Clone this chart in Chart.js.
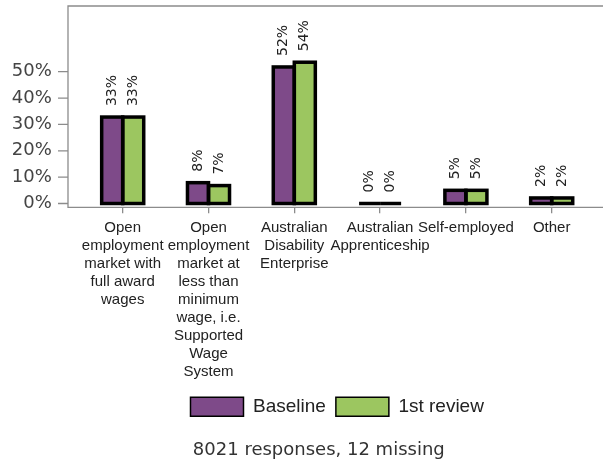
<!DOCTYPE html>
<html>
<head>
<meta charset="utf-8">
<script src="https://cdn.jsdelivr.net/npm/chart.js@4/dist/chart.umd.min.js"></script>
<style>
  html, body { margin: 0; padding: 0; background: #fff; overflow: hidden; }
  #wrap { position: relative; width: 603px; height: 461px; }
</style>
</head>
<body>
<div id="wrap"><canvas id="c"></canvas></div>
<script>
// ---- data ----
const categories = [
  ['Open', 'employment', 'market with', 'full award', 'wages'],
  ['Open', 'employment', 'market at', 'less than', 'minimum', 'wage, i.e.', 'Supported', 'Wage', 'System'],
  ['Australian', 'Disability', 'Enterprise'],
  ['Australian', 'Apprenticeship'],
  ['Self-employed'],
  ['Other']
];
const seriesNames = ['Baseline', '1st review'];
const baseline = [32.8, 7.9, 51.8, 0, 5.0, 2.1];
const firstReview = [32.8, 6.8, 53.6, 0, 5.0, 2.1];
const yTickValues = [0, 10, 20, 30, 40, 50];
const subtitleText = '8021 responses, 12 missing';

const PURPLE = '#7e4a89';
const GREEN = '#9cc660';
const FRAME = '#8c8c8c';

const framePlugin = {
  id: 'frame',
  beforeDatasetsDraw(chart) {
    const ctx = chart.ctx;
    const y = chart.scales.y;
    const top = chart.chartArea.top, bottom = chart.chartArea.bottom;
    const left = 68, right = chart.width;
    ctx.save();
    ctx.strokeStyle = FRAME;
    ctx.lineWidth = 1.3;
    ctx.beginPath();
    ctx.moveTo(right, top); ctx.lineTo(left, top); ctx.lineTo(left, bottom); ctx.lineTo(right, bottom);
    ctx.stroke();
    ctx.beginPath();
    yTickValues.forEach(v => {
      const p = y.getPixelForValue(v);
      ctx.moveTo(58, p); ctx.lineTo(left, p);
    });
    ctx.stroke();
    ctx.restore();
  },
  afterDatasetsDraw(chart) {
    const ctx = chart.ctx;
    ctx.save();
    ctx.strokeStyle = '#000';
    ctx.lineWidth = 3.5;
    ctx.lineJoin = 'miter';
    chart.data.datasets.forEach((ds, i) => {
      chart.getDatasetMeta(i).data.forEach((el, j) => {
        const {x, y, base, width} = el.getProps(['x', 'y', 'base', 'width'], true);
        const t = Math.min(y, base), b = Math.max(y, base);
        ctx.strokeRect(x - width / 2, t, width, b - t);
      });
    });
    // value labels
    ctx.fillStyle = '#222';
    ctx.font = '14px "DejaVu Sans"';
    ctx.textAlign = 'left';
    ctx.textBaseline = 'middle';
    chart.data.datasets.forEach((ds, i) => {
      chart.getDatasetMeta(i).data.forEach((el, j) => {
        const {x, y} = el.getProps(['x', 'y'], true);
        ctx.save();
        ctx.translate(x, y - 11);
        ctx.rotate(-Math.PI / 2);
        ctx.fillText(Math.round(ds.data[j]) + '%', 0, 0);
        ctx.restore();
      });
    });
    ctx.restore();
  },
  afterDraw(chart) {
    const ctx = chart.ctx;
    ctx.save();
    ctx.fillStyle = '#333';
    ctx.font = '18px "DejaVu Sans"';
    ctx.textAlign = 'center';
    ctx.textBaseline = 'middle';
    ctx.fillText(subtitleText, 318.8, 450.2);
    ctx.restore();
  }
};

new Chart(document.getElementById('c'), {
  type: 'bar',
  data: {
    labels: categories,
    datasets: [
      { label: seriesNames[0], data: baseline, backgroundColor: PURPLE, borderWidth: 0,
        categoryPercentage: 0.49, barPercentage: 1 },
      { label: seriesNames[1], data: firstReview, backgroundColor: GREEN, borderWidth: 0,
        categoryPercentage: 0.49, barPercentage: 1 }
    ]
  },
  options: {
    responsive: true,
    maintainAspectRatio: false,
    animation: false,
    layout: { padding: { left: 0, right: 8.4, top: 6, bottom: 34.7 } },
    scales: {
      x: {
        offset: true,
        grid: { display: true, drawOnChartArea: false, drawTicks: true, tickLength: 6, offset: false,
                color: FRAME, lineWidth: 1.3 },
        border: { display: false },
        ticks: { autoSkip: false, maxRotation: 0, minRotation: 0, padding: 5.5, color: '#222',
                 font: { family: '"Liberation Sans", Arial, sans-serif', size: 15, lineHeight: 1.2 } },
        afterFit(scale) { scale.height = 180; scale.paddingLeft = 0; scale.paddingRight = 0; }
      },
      y: {
        min: -1.44,
        max: 74.93,
        grid: { display: false, drawTicks: false },
        border: { display: false },
        ticks: { padding: 28, color: '#444', font: { family: '"DejaVu Sans"', size: 18 },
                 callback: v => v + '%' },
        afterBuildTicks(scale) { scale.ticks = yTickValues.map(v => ({ value: v })); },
        afterFit(scale) { scale.width = 79.8; scale.paddingTop = 0; scale.paddingBottom = 0; }
      }
    },
    plugins: {
      legend: {
        position: 'bottom',
        fullSize: false,
        labels: {
          boxWidth: 53, boxHeight: 19, padding: 10, color: '#222',
          font: { family: '"Liberation Sans", Arial, sans-serif', size: 19 },
          generateLabels(chart) {
            const items = Chart.defaults.plugins.legend.labels.generateLabels(chart);
            items.forEach(it => { it.strokeStyle = '#000'; it.lineWidth = 1.5; });
            return items;
          }
        }
      },
      title: { display: false },
      tooltip: { enabled: false }
    }
  },
  plugins: [framePlugin]
});
</script>
</body>
</html>
